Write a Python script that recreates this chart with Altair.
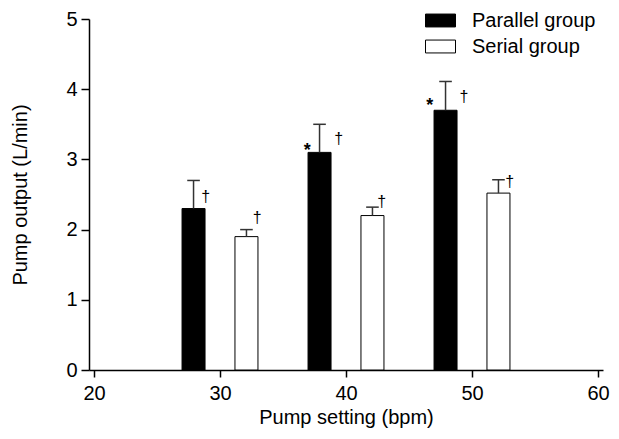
import altair as alt
import pandas as pd

# ---- data ----
groups = ["Parallel group", "Serial group"]
parallel_x = [27.9, 37.9, 47.9]
serial_x = [32.1, 42.1, 52.1]
parallel_mean = [2.3, 3.1, 3.7]
parallel_upper = [2.7, 3.5, 4.11]
serial_mean = [1.9, 2.2, 2.52]
serial_upper = [2.0, 2.32, 2.71]

dagger_x = [28.86, 39.43, 49.37, 32.95, 42.83, 53.0]
dagger_y = [2.47, 3.29, 3.89, 2.16, 2.40, 2.68]
star_x = [36.92, 46.65]
star_y = [3.18, 3.82]

x_ticks = [20, 30, 40, 50, 60]
y_ticks = [0, 1, 2, 3, 4, 5]

FONT = "Liberation Sans"

bars = pd.DataFrame({
    "setting": parallel_x + serial_x,
    "output": parallel_mean + serial_mean,
    "upper": parallel_upper + serial_upper,
    "group": [groups[0]] * 3 + [groups[1]] * 3,
})
bars["cap_lo"] = bars["setting"] - 0.5
bars["cap_hi"] = bars["setting"] + 0.5

daggers = pd.DataFrame({"x": dagger_x, "y": dagger_y, "t": ["†"] * len(dagger_x)})
stars = pd.DataFrame({"x": star_x, "y": star_y, "t": ["*"] * len(star_x)})

xscale = alt.Scale(domain=[20, 60], nice=False, zero=False)
yscale = alt.Scale(domain=[0, 5], nice=False)

xax = alt.Axis(values=x_ticks, title="Pump setting (bpm)", grid=False, labelFlush=False,
               tickSize=7, labelPadding=6, titlePadding=4, format="d")
yax = alt.Axis(values=y_ticks, title="Pump output (L/min)", grid=False, labelFlush=False,
               tickSize=8, labelPadding=4, titlePadding=35, format="d")

bar_layer = alt.Chart(bars).mark_bar(size=23, stroke="black", strokeWidth=1, orient="vertical").encode(
    x=alt.X("setting:Q", scale=xscale, axis=xax),
    y=alt.Y("output:Q", scale=yscale, axis=yax),
    fill=alt.Fill("group:N", scale=alt.Scale(domain=groups, range=["black", "white"]),
                  legend=alt.Legend(title=None, orient="none", legendX=336, legendY=-14,
                                    symbolType="M-1,-0.43H1V0.43H-1Z", symbolSize=900,
                                    symbolStrokeColor="black", symbolStrokeWidth=1,
                                    labelFont=FONT, labelFontSize=20, labelColor="black",
                                    labelOffset=16, rowPadding=-12)),
)

err_line = alt.Chart(bars).mark_rule(color="#333", strokeWidth=1.5).encode(
    x=alt.X("setting:Q", scale=xscale),
    y=alt.Y("output:Q", scale=yscale),
    y2="upper:Q",
)
err_cap = alt.Chart(bars).mark_rule(color="#333", strokeWidth=1.5).encode(
    x=alt.X("cap_lo:Q", scale=xscale),
    x2="cap_hi:Q",
    y=alt.Y("upper:Q", scale=yscale),
)

dag = alt.Chart(daggers).mark_text(font=FONT, fontSize=16, color="black",
                                   align="center", baseline="middle").encode(
    x=alt.X("x:Q", scale=xscale), y=alt.Y("y:Q", scale=yscale), text="t:N")
st = alt.Chart(stars).mark_text(font=FONT, fontSize=18, fontWeight="bold", color="black",
                                align="center", baseline="middle", dy=4).encode(
    x=alt.X("x:Q", scale=xscale), y=alt.Y("y:Q", scale=yscale), text="t:N")

chart = alt.layer(bar_layer, err_line, err_cap, dag, st).properties(
    width=514, height=351,
    autosize=alt.AutoSizeParams(type="none"),
    padding={"left": 81, "top": 11, "right": 8, "bottom": 61},
    background="white",
).configure_view(stroke=None).configure_axis(
    labelFont=FONT, titleFont=FONT, labelFontSize=20, titleFontSize=20,
    titleFontWeight="normal", labelColor="black", titleColor="black",
    domainColor="black", tickColor="black", domainWidth=1.5, tickWidth=1.5,
)

chart.save("out.html", embed_options={"renderer": "svg", "actions": False})
